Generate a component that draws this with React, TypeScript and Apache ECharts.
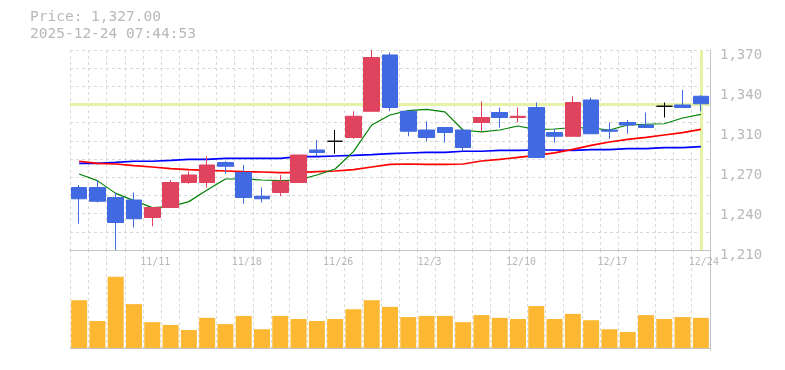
import React, { useEffect, useRef } from "react";
import * as echarts from "echarts";

const dates = ['11/5','11/6','11/7','11/10','11/11','11/12','11/13','11/14','11/17','11/18','11/19','11/20','11/21','11/25','11/26','11/27','11/28','12/1','12/2','12/3','12/4','12/5','12/8','12/9','12/10','12/11','12/12','12/15','12/16','12/17','12/18','12/19','12/22','12/23','12/24'];
const xLabelDates = ['11/11','11/18','11/26','12/3','12/10','12/17','12/24'];

const opens  = [1260,1260,1252,1250,1236,1244,1264,1264,1280,1272,1253,1256,1264,1290,1297,1300,1321,1366,1321,1306,1308,1306,1312,1320,1316,1324,1304,1301,1330,1306,1312,1310,1325,1326,1333];
const closes = [1251,1249,1232,1235,1244,1264,1270,1278,1277,1252,1251,1265,1286,1288,1297,1317,1364,1324,1305,1300,1304,1292,1316,1316,1317,1284,1301,1328,1303,1305,1310,1308,1325,1324,1327];
const lows   = [1231,1248,1210,1228,1229,1244,1263,1260,1271,1247,1248,1253,1264,1285,1287,1299,1321,1321,1301,1297,1296,1289,1305,1308,1312,1284,1296,1301,1303,1299,1303,1308,1316,1324,1321];
const highs  = [1262,1266,1256,1256,1244,1266,1273,1285,1281,1278,1260,1270,1286,1298,1306,1321,1370,1368,1321,1313,1308,1306,1329,1324,1324,1328,1307,1333,1332,1312,1314,1320,1328,1338,1334];

const ma5  = [1270.8,1265.5,1255.3,1249.5,1243.9,1244.7,1248.7,1258,1266.8,1266.8,1266,1265.5,1266,1270,1274.8,1288.7,1310,1318,1321.5,1322.5,1320.5,1305.8,1304.5,1306,1309.2,1306.3,1306.8,1308,1307.6,1306,1310,1310.6,1311,1315.6,1318.5];
const ma25 = [1281,1279.3,1278.8,1277.5,1276.4,1275.1,1274.3,1273.7,1273.2,1272.7,1272.4,1271.9,1271.9,1272.7,1273.2,1274.3,1276.4,1278.5,1278.8,1278.5,1278.5,1278.8,1281.2,1282.5,1284.1,1285.7,1287.7,1290.5,1293.7,1296.4,1298.5,1300.1,1302,1303.9,1306.5];
const ma75 = [1279.3,1279.3,1280.1,1281,1281,1281.7,1282.5,1282.5,1283.3,1283.3,1283.3,1283.3,1284.7,1284.7,1285.2,1285.7,1286.3,1287.1,1287.6,1288.1,1288.1,1289,1289,1289.7,1289.7,1290,1290,1289.7,1290.3,1290.3,1291.1,1291.1,1291.9,1291.9,1292.7];

const volumes = [1220,690,1820,1120,660,590,460,770,610,820,480,820,740,690,740,990,1220,1050,790,820,820,660,840,770,740,1070,740,870,710,480,410,840,740,790,770];

const yTickLabels = ['1,210','1,240','1,270','1,310','1,340','1,370'];
const lastPrice = 1327;
const priceText = 'Price: 1,327.00';
const timeText = '2025-12-24 07:44:53';

const UP = '#E0435E';
const DOWN = '#4169E1';
const MONO = '"DejaVu Sans Mono", "Liberation Mono", monospace';
const GRID_COLOR = '#d9d9d9';
const AXIS_COLOR = '#c4c4c4';
const LABEL_COLOR = '#b8b8b8';

export default function App() {
  const ref = useRef<HTMLDivElement>(null);
  useEffect(() => {
    if (!ref.current) return;
    const chart = echarts.init(ref.current, null, { renderer: 'svg' });
    const candleData = dates.map((d, i) => {
      const v = [opens[i], closes[i], lows[i], highs[i]];
      if (opens[i] === closes[i]) {
        return { value: v, itemStyle: { color: '#000', color0: '#000', borderColor: '#000', borderColor0: '#000' } };
      }
      return { value: v };
    });
    const dashed = { color: GRID_COLOR, width: 1, type: [3, 3] as any };
    chart.setOption({
      animation: false,
      graphic: [
        { type: 'text', left: 30, top: 8.5, style: { text: priceText, fill: LABEL_COLOR, font: `14.5px ${MONO}` } },
        { type: 'text', left: 30, top: 25.6, style: { text: timeText, fill: LABEL_COLOR, font: `14.5px ${MONO}` } },
      ],
      grid: [
        { left: 70, right: 75, top: 50, height: 200 },
        { left: 70, right: 75, top: 250, height: 100 },
      ],
      xAxis: [
        {
          type: 'category', gridIndex: 0, data: dates, boundaryGap: true,
          axisLine: { show: true, lineStyle: { color: AXIS_COLOR, width: 1 } },
          axisTick: { show: false, interval: 0 },
          splitLine: { show: true, interval: 0, lineStyle: dashed },
          axisLabel: {
            interval: (_i: number, v: string) => xLabelDates.includes(v),
            color: LABEL_COLOR, fontFamily: MONO, fontSize: 10, margin: 6, padding: [0, 0, 0, 6],
          },
        },
        {
          type: 'category', gridIndex: 1, data: dates, boundaryGap: true,
          axisLine: { show: true, lineStyle: { color: AXIS_COLOR, width: 1 } },
          axisTick: { show: false, interval: 0 },
          splitLine: { show: true, interval: 0, lineStyle: dashed },
          axisLabel: { show: false },
        },
      ],
      yAxis: [
        { type: 'value', gridIndex: 0, min: 1210, max: 1370, show: false, scale: true },
        {
          type: 'value', gridIndex: 0, min: 0, max: 5, interval: 1, position: 'right',
          axisLine: { show: true, lineStyle: { color: AXIS_COLOR, width: 1 } },
          axisTick: { show: false }, splitLine: { show: false },
          axisLabel: {
            color: LABEL_COLOR, fontFamily: MONO, fontSize: 14, margin: 10,
            showMinLabel: true, showMaxLabel: true,
            formatter: (v: number) => `{p|${yTickLabels[Math.round(v)] ?? ''}}`,
            rich: { p: { color: LABEL_COLOR, fontFamily: MONO, fontSize: 14, padding: [7, 0, 0, 0] } },
          },
        },
        {
          type: 'value', gridIndex: 0, min: 0, max: 11, interval: 1, position: 'left',
          axisLine: { show: false }, axisTick: { show: false }, axisLabel: { show: false },
          splitLine: { show: true, lineStyle: dashed },
        },
        {
          type: 'value', gridIndex: 1, min: -50, max: 2500, position: 'right',
          axisLine: { show: true, lineStyle: { color: AXIS_COLOR, width: 1 } },
          axisTick: { show: false }, axisLabel: { show: false }, splitLine: { show: false },
        },
      ],
      series: [
        {
          type: 'line', name: 'MA75', xAxisIndex: 0, yAxisIndex: 0, data: ma75, showSymbol: false,
          lineStyle: { color: '#0000ff', width: 1.6 }, z: 2, silent: true,
        },
        {
          type: 'line', name: 'MA25', xAxisIndex: 0, yAxisIndex: 0, data: ma25, showSymbol: false,
          lineStyle: { color: '#ff0000', width: 1.6 }, z: 2, silent: true,
        },
        {
          type: 'line', name: 'MA5', xAxisIndex: 0, yAxisIndex: 0, data: ma5, showSymbol: false,
          lineStyle: { color: '#008000', width: 1.2 }, z: 2, silent: true,
        },
        {
          type: 'candlestick', xAxisIndex: 0, yAxisIndex: 0, data: candleData, barWidth: 16, z: 3,
          itemStyle: { color: UP, color0: DOWN, borderColor: UP, borderColor0: DOWN, borderWidth: 1 },
          markLine: {
            z: 1, silent: true, symbol: ['none', 'none'], label: { show: false },
            lineStyle: { color: '#e4f4a4', width: 3, type: 'solid' },
            emphasis: { disabled: true },
            data: [{ yAxis: lastPrice }, { xAxis: dates[dates.length - 1] }],
          },
        },
        {
          type: 'bar', xAxisIndex: 1, yAxisIndex: 3, data: volumes, barWidth: 16,
          itemStyle: { color: '#FDB833' }, silent: true,
        },
      ],
    });
    return () => chart.dispose();
  }, []);
  return <div ref={ref} style={{ position: 'fixed', left: 0, top: 0, width: 785, height: 370 }} />;
}
